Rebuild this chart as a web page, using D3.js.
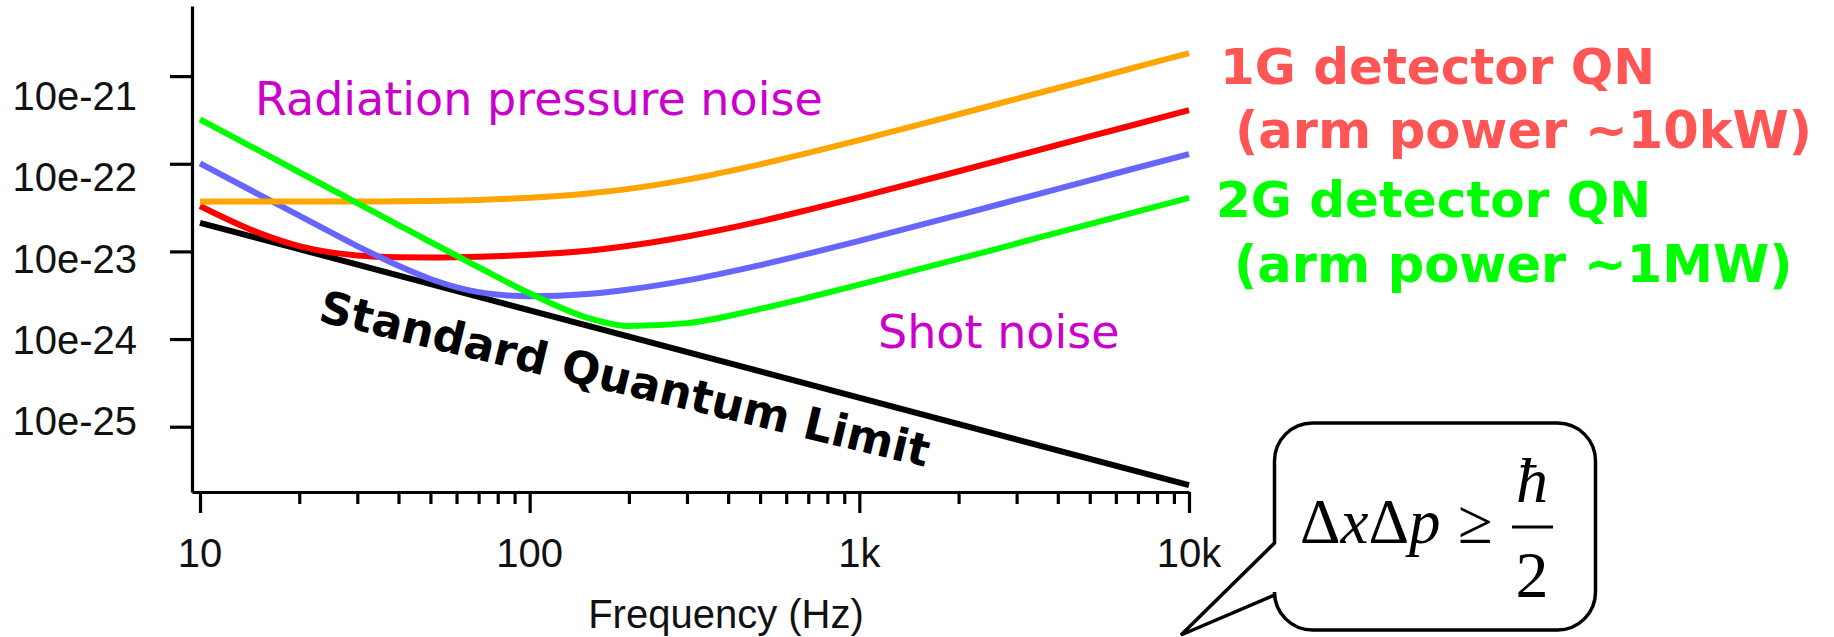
<!DOCTYPE html>
<html>
<head>
<meta charset="utf-8">
<script src="https://cdn.jsdelivr.net/npm/d3@7"></script>
<style>
  html, body { margin: 0; padding: 0; background: #fff; }
  svg { display: block; }
</style>
</head>
<body>
<svg id="chart" width="1834" height="637"></svg>
<script>
// Frequency grid (Hz) shared by the quantum-noise curves
const freqs = [10, 15, 20, 30, 40, 50, 70, 100, 150, 200, 300, 500, 700, 1000, 2000, 3000, 5000, 7000, 10000];

// Quantum-noise strain curves (1/sqrt(Hz)) for increasing arm power
const qnLowPower = [3.72e-23, 3.70e-23, 3.70e-23, 3.71e-23, 3.73e-23, 3.77e-23, 3.87e-23, 4.09e-23, 4.57e-23, 5.17e-23, 6.59e-23, 9.84e-23, 1.33e-22, 1.86e-22, 3.67e-22, 5.50e-22, 9.14e-22, 1.28e-21, 1.83e-21];
const qn10kW     = [3.30e-23, 1.64e-23, 1.15e-23, 9.00e-24, 8.59e-24, 8.53e-24, 8.69e-24, 9.16e-24, 1.02e-23, 1.16e-23, 1.48e-23, 2.20e-23, 2.98e-23, 4.17e-23, 8.22e-23, 1.23e-22, 2.05e-22, 2.86e-22, 4.09e-22];
const qn100kW    = [1.01e-22, 4.51e-23, 2.56e-23, 1.15e-23, 6.85e-24, 4.84e-24, 3.43e-24, 3.07e-24, 3.27e-24, 3.68e-24, 4.67e-24, 6.97e-24, 9.42e-24, 1.32e-23, 2.60e-23, 3.89e-23, 6.47e-23, 9.06e-23, 1.29e-22];
const qn1MW      = [3.21e-22, 1.43e-22, 8.00e-23, 3.56e-23, 2.00e-23, 1.28e-23, 6.60e-24, 3.33e-24, 1.75e-24, 1.41e-24, 1.52e-24, 2.21e-24, 2.98e-24, 4.17e-24, 8.20e-24, 1.23e-23, 2.05e-23, 2.86e-23, 4.09e-23];

// Standard quantum limit (straight line on log-log axes)
const sqlFreqs = [10, 10000];
const sqlValues = [2.12e-23, 2.15e-26];

// Axis ticks and labels
const yTicks = [1e-21, 1e-22, 1e-23, 1e-24, 1e-25];
const yTickLabels = ["10e-21", "10e-22", "10e-23", "10e-24", "10e-25"];
const xTicks = [10, 100, 1000, 10000];
const xTickLabels = ["10", "100", "1k", "10k"];
const xMinorTicks = [20, 30, 40, 50, 60, 70, 80, 90,
                     200, 300, 400, 500, 600, 700, 800, 900,
                     2000, 3000, 4000, 5000, 6000, 7000, 8000, 9000];

const svg = d3.select("#chart");
svg.append("rect").attr("width", 1834).attr("height", 637).attr("fill", "#fff");

const x = d3.scaleLog().domain([Math.pow(10, 0.9757), 10000]).range([192, 1189]);
const y = d3.scaleLog().domain([Math.pow(10, -20.2), Math.pow(10, -25.745)]).range([6, 492]);

const axisFont = "'Liberation Sans', Arial, sans-serif";
const noteFont = "'DejaVu Sans', Verdana, sans-serif";

// ----- axes -----
const yAxis = svg.append("g")
  .attr("transform", `translate(${x.range()[0]},0)`)
  .call(d3.axisLeft(y).tickValues(yTicks).tickSize(22).tickSizeOuter(0).tickFormat(""));
const xAxis = svg.append("g")
  .attr("transform", `translate(0,${y.range()[1]})`)
  .call(d3.axisBottom(x).tickValues(xTicks).tickSize(21).tickSizeOuter(0).tickFormat(""));
const xMinor = svg.append("g")
  .attr("transform", `translate(0,${y.range()[1]})`)
  .call(d3.axisBottom(x).tickValues(xMinorTicks).tickSize(12).tickSizeOuter(0).tickFormat(""));
xMinor.select(".domain").remove();
[yAxis, xAxis, xMinor].forEach(g => {
  g.selectAll("path, line").attr("stroke", "#000").attr("stroke-width", 3.2);
});

// y tick labels sit on their own slightly tighter ladder
const yLabelPos = d3.scaleLinear().domain([0, yTicks.length - 1]).range([110, 435]);
svg.append("g").selectAll("text").data(yTickLabels).join("text")
  .attr("x", 137)
  .attr("y", (d, i) => yLabelPos(i))
  .attr("text-anchor", "end")
  .attr("font-family", axisFont)
  .attr("font-size", 40)
  .attr("fill", "#111")
  .text(d => d);

svg.append("g").selectAll("text").data(xTicks).join("text")
  .attr("x", d => x(d))
  .attr("y", 567)
  .attr("text-anchor", "middle")
  .attr("font-family", axisFont)
  .attr("font-size", 40)
  .attr("fill", "#111")
  .text((d, i) => xTickLabels[i]);

svg.append("text")
  .attr("x", 726).attr("y", 628)
  .attr("text-anchor", "middle")
  .attr("font-family", axisFont)
  .attr("font-size", 40)
  .attr("fill", "#111")
  .text("Frequency (Hz)");

// ----- curves -----
const line = d3.line()
  .x(d => x(d[0]))
  .y(d => y(d[1]))
  .curve(d3.curveMonotoneX);

const curves = [
  { f: sqlFreqs, v: sqlValues, color: "#000000", w: 6 },
  { f: freqs, v: qn10kW, color: "#FF0000", w: 6 },
  { f: freqs, v: qn100kW, color: "#6666FF", w: 6 },
  { f: freqs, v: qnLowPower, color: "#FFA500", w: 6 },
  { f: freqs, v: qn1MW, color: "#00FF00", w: 6 }
];
svg.append("g").selectAll("path").data(curves).join("path")
  .attr("d", c => line(c.f.map((f, i) => [f, c.v[i]])))
  .attr("fill", "none")
  .attr("stroke", c => c.color)
  .attr("stroke-width", c => c.w);

// ----- annotations -----
svg.append("text")
  .attr("x", 255).attr("y", 115)
  .attr("font-family", noteFont).attr("font-size", 46)
  .attr("fill", "#CC00CC")
  .text("Radiation pressure noise");

svg.append("text")
  .attr("x", 878).attr("y", 348)
  .attr("font-family", noteFont).attr("font-size", 46)
  .attr("fill", "#CC00CC")
  .text("Shot noise");

svg.append("text")
  .attr("transform", "translate(317,321) rotate(13.5)")
  .attr("font-family", noteFont).attr("font-size", 45).attr("font-weight", "bold")
  .attr("fill", "#000")
  .text("Standard Quantum Limit");

const legendLines = [
  { t: "1G detector QN", x: 1220, y: 84, c: "#FF5555", s: 50 },
  { t: "(arm power ~10kW)", x: 1235, y: 148, c: "#FF5555", s: 51 },
  { t: "2G detector QN", x: 1216, y: 217, c: "#00FF00", s: 50 },
  { t: "(arm power ~1MW)", x: 1234, y: 282, c: "#00FF00", s: 51 }
];
svg.append("g").selectAll("text").data(legendLines).join("text")
  .attr("x", d => d.x).attr("y", d => d.y)
  .attr("font-family", noteFont).attr("font-size", d => d.s).attr("font-weight", "bold")
  .attr("fill", d => d.c)
  .text(d => d.t);

// ----- speech bubble with the uncertainty relation -----
const bx0 = 1274.5, bx1 = 1595.5, by0 = 423, by1 = 630, br = 38;
const bubble = d3.path();
bubble.moveTo(bx0 + br, by0);
bubble.lineTo(bx1 - br, by0);
bubble.arcTo(bx1, by0, bx1, by0 + br, br);
bubble.lineTo(bx1, by1 - br);
bubble.arcTo(bx1, by1, bx1 - br, by1, br);
bubble.lineTo(bx0 + br, by1);
bubble.arcTo(bx0, by1, bx0, by1 - br, br);
bubble.lineTo(bx0, 595);
bubble.lineTo(1181, 635);
bubble.lineTo(bx0, 543);
bubble.lineTo(bx0, by0 + br);
bubble.arcTo(bx0, by0, bx0 + br, by0, br);
bubble.closePath();
svg.append("path")
  .attr("d", bubble.toString())
  .attr("fill", "#fff")
  .attr("stroke", "#000")
  .attr("stroke-width", 3.5)
  .attr("stroke-linejoin", "miter");

const mathFont = "'Liberation Serif', 'Times New Roman', serif";
const eq = svg.append("text")
  .attr("x", 1300).attr("y", 543)
  .attr("font-family", mathFont).attr("font-size", 63).attr("fill", "#000");
eq.append("tspan").text("Δ");
eq.append("tspan").attr("font-style", "italic").text("x");
eq.append("tspan").text("Δ");
eq.append("tspan").attr("font-style", "italic").text("p");

svg.append("text")
  .attr("x", 1458).attr("y", 543)
  .attr("font-family", mathFont).attr("font-size", 63).attr("fill", "#000")
  .text("≥");

svg.append("line")
  .attr("x1", 1512).attr("x2", 1553)
  .attr("y1", 527).attr("y2", 527)
  .attr("stroke", "#000").attr("stroke-width", 3);

svg.append("text")
  .attr("x", 1532).attr("y", 502)
  .attr("text-anchor", "middle")
  .attr("font-family", mathFont).attr("font-size", 64).attr("font-style", "italic")
  .attr("fill", "#000")
  .text("ħ");

svg.append("text")
  .attr("x", 1532).attr("y", 597)
  .attr("text-anchor", "middle")
  .attr("font-family", mathFont).attr("font-size", 66)
  .attr("fill", "#000")
  .text("2");
</script>
</body>
</html>
